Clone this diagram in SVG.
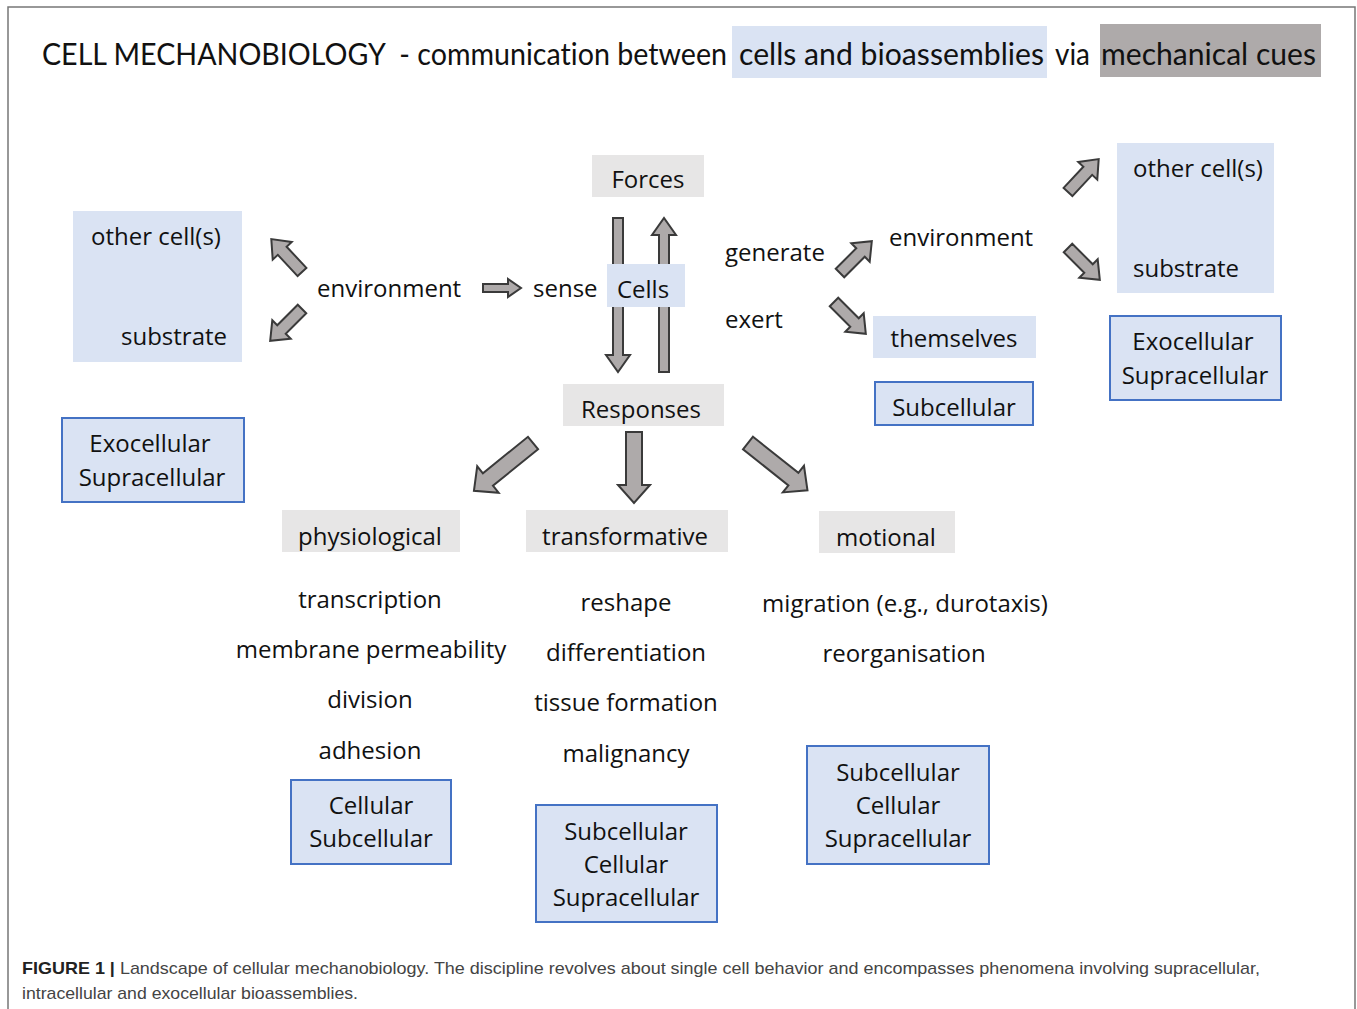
<svg xmlns="http://www.w3.org/2000/svg" width="1357" height="1009" viewBox="0 0 1357 1009">
<style>
.t{font-family:"Open Sans","DejaVu Sans",sans-serif;font-size:24px;fill:#111}
.c{text-anchor:middle}
.title{font-family:Lato,"Open Sans",sans-serif;font-size:30px;fill:#111;white-space:pre;font-variant-ligatures:none}
.gray{fill:#e7e6e6}
.lb{fill:#dae3f3}
.bb{fill:#dae3f3;stroke:#4472c4;stroke-width:2}
.arr{fill:#aeaaaa;stroke:#3a3a3a;stroke-width:2;stroke-linejoin:miter}
.cap{font-family:"Liberation Sans",Arial,sans-serif;font-size:17px;fill:#444}
</style>
<defs>
<path id="aS" d="M0,-6 H29 V-13 L45,0 L29,13 V6 H0 Z"/>
<path id="aR" d="M0,-4 H25 V-9 L38,0 L25,9 V4 H0 Z"/>
<path id="aL" d="M0,-5 H137 V-12 L154,0 L137,12 V5 H0 Z"/>
<path id="aD" d="M0,-8 H58 V-17 L76,0 L58,17 V8 H0 Z"/>
<path id="aV" d="M0,-8 H53 V-16 L71,0 L53,16 V8 H0 Z"/>
</defs>
<rect width="1357" height="1009" fill="#fff"/>
<path d="M8,1009 V7 H1355 V1009" fill="none" stroke="#777" stroke-width="1.5"/>

<g id="title">
<rect x="732" y="26" width="315" height="52" class="lb"/>
<rect x="1100" y="24" width="221" height="53" fill="#aeaaaa"/>
<text class="title" x="42" y="65" textLength="685" lengthAdjust="spacingAndGlyphs">CELL MECHANOBIOLOGY  - communication between</text>
<text class="title" x="739" y="65" textLength="305" lengthAdjust="spacingAndGlyphs">cells and bioassemblies</text>
<text class="title" x="1055" y="65" textLength="35" lengthAdjust="spacingAndGlyphs">via</text>
<text class="title" x="1101" y="65" textLength="215" lengthAdjust="spacingAndGlyphs">mechanical cues</text>
</g>

<g id="connectors">
<use href="#aS" class="arr" transform="translate(302,272) rotate(-133)"/>
<use href="#aS" class="arr" transform="translate(302,309) rotate(135)"/>
<use href="#aR" class="arr" transform="translate(483,288)"/>
<use href="#aL" class="arr" transform="translate(618,218) rotate(90)"/>
<use href="#aL" class="arr" transform="translate(664,372) rotate(-90)"/>
<use href="#aS" class="arr" transform="translate(840,273) rotate(-45)"/>
<use href="#aS" class="arr" transform="translate(834,302) rotate(45)"/>
<use href="#aS" class="arr" transform="translate(1068,192) rotate(-47)"/>
<use href="#aS" class="arr" transform="translate(1068,248) rotate(45)"/>
<use href="#aD" class="arr" transform="translate(533,443) rotate(141)"/>
<use href="#aV" class="arr" transform="translate(634,432) rotate(90)"/>
<use href="#aD" class="arr" transform="translate(748,443) rotate(38.5)"/>
</g>

<g id="left-env">
<rect x="73" y="211" width="169" height="151" class="lb"/>
<text class="t" x="91" y="245">other cell(s)</text>
<text class="t" x="121" y="345">substrate</text>
</g>
<g id="left-exo">
<rect x="62" y="418" width="182" height="84" class="bb"/>
<text class="t c" x="150" y="452">Exocellular</text>
<text class="t c" x="152" y="486">Supracellular</text>
</g>
<g id="environment-left"><text class="t" x="317" y="297">environment</text></g>
<g id="sense"><text class="t" x="533" y="297">sense</text></g>
<g id="forces">
<rect x="592" y="155" width="112" height="42" class="gray"/>
<text class="t c" x="648" y="188">Forces</text>
</g>
<g id="cells">
<rect x="607" y="264" width="78" height="43" class="lb"/>
<text class="t c" x="643" y="298">Cells</text>
</g>
<g id="responses">
<rect x="563" y="384" width="161" height="42" class="gray"/>
<text class="t c" x="641" y="418">Responses</text>
</g>
<g id="generate"><text class="t" x="725" y="261">generate</text></g>
<g id="exert"><text class="t" x="725" y="328">exert</text></g>
<g id="environment-right"><text class="t" x="889" y="246">environment</text></g>
<g id="themselves">
<rect x="873" y="316" width="163" height="42" class="lb"/>
<text class="t c" x="954" y="347">themselves</text>
</g>
<g id="subcellular-top">
<rect x="875" y="382" width="158" height="43" class="bb"/>
<text class="t c" x="954" y="416">Subcellular</text>
</g>
<g id="right-env">
<rect x="1117" y="143" width="157" height="150" class="lb"/>
<text class="t" x="1133" y="177">other cell(s)</text>
<text class="t" x="1133" y="277">substrate</text>
</g>
<g id="right-exo">
<rect x="1110" y="316" width="171" height="84" class="bb"/>
<text class="t c" x="1193" y="350">Exocellular</text>
<text class="t c" x="1195" y="384">Supracellular</text>
</g>

<g id="physiological">
<rect x="282" y="510" width="178" height="42" class="gray"/>
<text class="t c" x="370" y="545">physiological</text>
<text class="t c" x="370" y="608">transcription</text>
<text class="t c" x="371" y="658">membrane permeability</text>
<text class="t c" x="370" y="708">division</text>
<text class="t c" x="370" y="759">adhesion</text>
</g>
<g id="transformative">
<rect x="526" y="510" width="202" height="42" class="gray"/>
<text class="t c" x="625" y="545">transformative</text>
<text class="t c" x="626" y="611">reshape</text>
<text class="t c" x="626" y="661">differentiation</text>
<text class="t c" x="626" y="711">tissue formation</text>
<text class="t c" x="626" y="762">malignancy</text>
</g>
<g id="motional">
<rect x="819" y="511" width="136" height="42" class="gray"/>
<text class="t c" x="886" y="546">motional</text>
<text class="t c" x="905" y="612">migration (e.g., durotaxis)</text>
<text class="t c" x="904" y="662">reorganisation</text>
</g>
<g id="scale-physiological">
<rect x="291" y="780" width="160" height="84" class="bb"/>
<text class="t c" x="371" y="814">Cellular</text>
<text class="t c" x="371" y="847">Subcellular</text>
</g>
<g id="scale-transformative">
<rect x="536" y="805" width="181" height="117" class="bb"/>
<text class="t c" x="626" y="840">Subcellular</text>
<text class="t c" x="626" y="873">Cellular</text>
<text class="t c" x="626" y="906">Supracellular</text>
</g>
<g id="scale-motional">
<rect x="807" y="746" width="182" height="118" class="bb"/>
<text class="t c" x="898" y="781">Subcellular</text>
<text class="t c" x="898" y="814">Cellular</text>
<text class="t c" x="898" y="847">Supracellular</text>
</g>

<g id="caption">
<text class="cap" x="22" y="974" textLength="1238" lengthAdjust="spacingAndGlyphs"><tspan font-weight="bold" fill="#222">FIGURE 1 |</tspan> Landscape of cellular mechanobiology. The discipline revolves about single cell behavior and encompasses phenomena involving supracellular,</text>
<text class="cap" x="22" y="999" textLength="336" lengthAdjust="spacingAndGlyphs">intracellular and exocellular bioassemblies.</text>
</g>
</svg>
